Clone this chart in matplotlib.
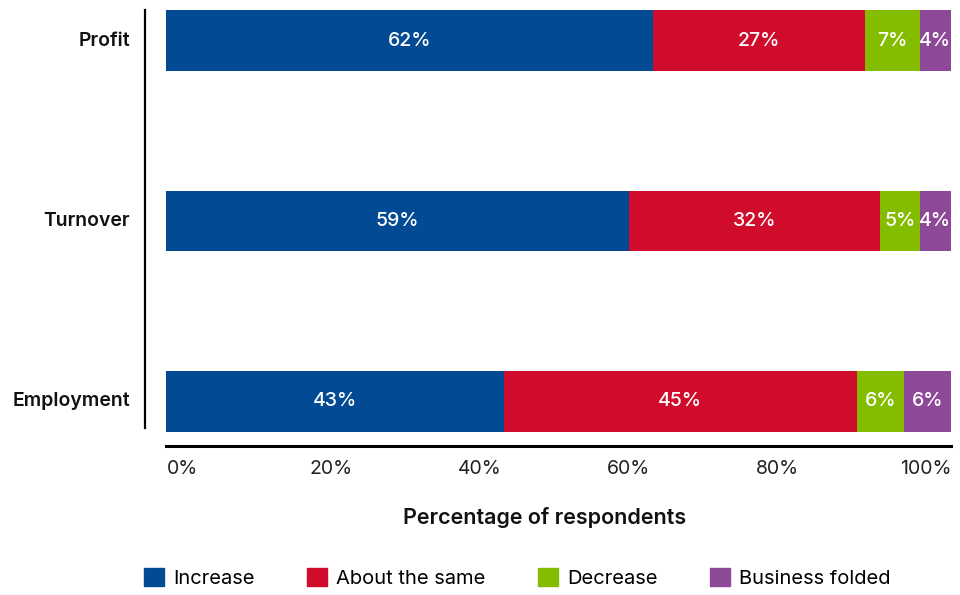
import numpy as np
import matplotlib.pyplot as plt
from matplotlib.lines import Line2D
from matplotlib.patches import Patch

plt.rcParams['font.family'] = ['Inter', 'DejaVu Sans']

# datos
categorias = ['Profit', 'Turnover', 'Employment']
series = ['Increase', 'About the same', 'Decrease', 'Business folded']
increase = [62, 59, 43]
same = [27, 32, 45]
decrease = [7, 5, 6]
folded = [4, 4, 6]
ticks = [0, 20, 40, 60, 80, 100]
tick_labels = ['0%', '20%', '40%', '60%', '80%', '100%']

colores = ['#024B94', '#D00C2D', '#84BC00', '#8E4898']
valores = [increase, same, decrease, folded]

fig = plt.figure(figsize=(9.6, 5.95), dpi=100)
ax = fig.add_axes([166/960, 1 - 446/595, 785/960, 436/595])

y = np.arange(len(categorias))
alto = 61/180.5
izq = np.zeros(len(categorias))
for vals, col, nombre in zip(valores, colores, series):
    ax.barh(y, vals, left=izq, height=alto, color=col, label=nombre)
    for yi, (l, v) in enumerate(zip(izq, vals)):
        ax.text(l + v/2, yi, f'{v}%', ha='center', va='center',
                color='white', fontsize=14, fontweight='medium')
    izq = izq + np.array(vals)

ax.set_xlim(0, 100)
ax.set_ylim(2 + 44.5/180.5, -alto/2)
for s in ['top', 'right', 'left']:
    ax.spines[s].set_visible(False)
ax.spines['bottom'].set_linewidth(2.2)
ax.set_xticks(ticks)
ax.set_xticklabels([])
ax.set_yticks([])
ax.tick_params(length=0)

# etiquetas del eje x repartidas a lo ancho
pos = np.linspace(2.1, 96.8, len(ticks))
for p, t in zip(pos, tick_labels):
    ax.text(p, 2 + (469 - 401.5)/180.5, t, ha='center', va='center',
            fontsize=14, color='#222222')

# etiquetas de categorias
for yi, c in enumerate(categorias):
    fig.text(130/960, 1 - (40.5 + yi*180.5)/595, c, ha='right', va='center',
             fontsize=14, fontweight='semibold', color='#111111')

# linea vertical izquierda
fig.add_artist(Line2D([145/960, 145/960], [1 - 10/595, 1 - 428/595],
                      color='black', linewidth=1.6))

fig.text(545/960, 1 - 517/595, 'Percentage of respondents', ha='center',
         va='center', fontsize=15.5, fontweight='semibold', color='#111111')

handles = [Patch(color=c) for c in colores]
fig.legend(handles, series, loc='center', bbox_to_anchor=(517/960, 1 - 578/595),
           ncol=4, frameon=False, fontsize=14.5, handlelength=1.0,
           handleheight=1.0, handletextpad=0.45, columnspacing=2.6)

plt.savefig('out.png', dpi=100)
